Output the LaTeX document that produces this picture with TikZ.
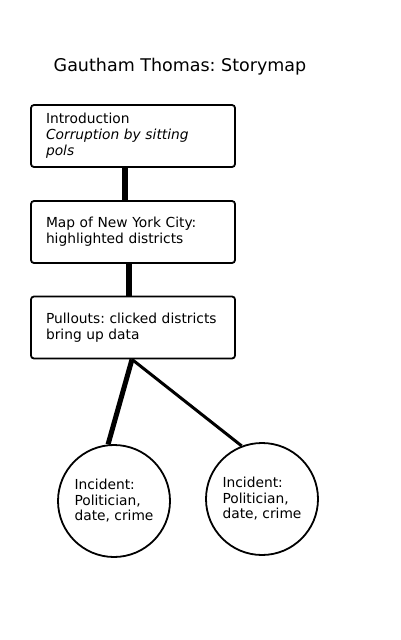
\documentclass[tikz,border=0pt]{standalone}
\usepackage{fontspec}
\setmainfont{DejaVu Sans}
\usetikzlibrary{positioning}
\frenchspacing
\tikzset{
    link/.style  = {line width=6pt, draw=black},
    thinlink/.style = {line width=3pt, draw=black},
    panel/.style = {rectangle, draw=black, line width=1.8pt, rounded corners=3pt,
                    minimum width=204pt, minimum height=62pt, align=left,
                    text width=174pt, inner xsep=15pt,
                    font=\fontsize{13.8}{16}\selectfont}
}
\begin{document}
\begin{tikzpicture}[
        x=1pt, y=-1pt,
        incident/.style={circle, draw=black, line width=1.8pt, minimum size=112pt, inner sep=0pt,
                         align=left, font=\fontsize{13.8}{15.5}\selectfont},
        titletext/.style={font=\fontsize{17.5}{20}\selectfont, anchor=base}
    ]
    \useasboundingbox (0,0) rectangle (400,640);

    % --- Title ---
    \node[titletext] (title) at (180,71) {Gautham Thomas: Storymap};

    % --- Story boxes ---
    \node[panel] (intro) at (133,136) {Introduction\\ \textit{Corruption by sitting}\\ \textit{pols}};
    \node[panel] (nycmap) at (133,232) {Map of New York City:\\ highlighted districts};
    \node[panel] (pullouts) at (133,327.5) {Pullouts: clicked districts\\ bring up data};

    % --- Incidents ---
    \node[incident] (incident_a) at (114,501) {Incident:\\ Politician,\\ date, crime};
    \node[incident] (incident_b) at (262,499) {Incident:\\ Politician,\\ date, crime};

    % --- Connections ---
    \draw[link] ([xshift=-8pt]intro.south) -- ([xshift=-8pt]nycmap.north);
    \draw[link] ([xshift=-4pt]nycmap.south) -- ([xshift=-4pt]pullouts.north);
    \draw[line width=5pt] ([xshift=-1pt]pullouts.south) -- (incident_a.96);
    \draw[thinlink] ([xshift=-1pt]pullouts.south) -- (incident_b.111);
\end{tikzpicture}
\end{document}
